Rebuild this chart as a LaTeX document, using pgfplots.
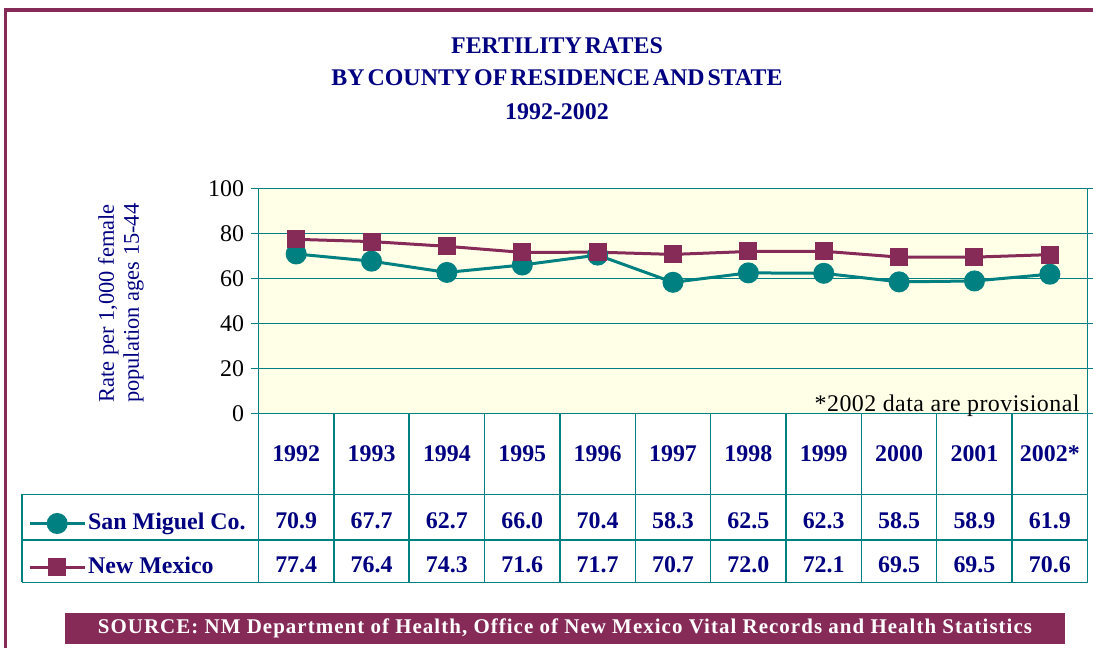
\documentclass[border=0pt]{standalone}
\usepackage{pgfplots}
\usepackage{pgfplotstable}
\pgfplotsset{compat=1.18}
\usepackage{fontspec}
\setmainfont{Liberation Serif}
\newfontfamily\srcfont[LetterSpace=5]{Liberation Serif}
\newfontfamily\notefont[LetterSpace=2]{Liberation Serif}
\newfontfamily\titlefont[WordSpace=0.5]{Liberation Serif}

\definecolor{navy}{HTML}{000080}
\definecolor{tealc}{HTML}{008080}
\definecolor{maroon}{HTML}{862B58}
\definecolor{paper}{HTML}{FFFFE8}

% fertility rates per 1,000 females 15-44
\pgfplotstableread{
x sm nm
0 70.9 77.4
1 67.7 76.4
2 62.7 74.3
3 66.0 71.6
4 70.4 71.7
5 58.3 70.7
6 62.5 72.0
7 62.3 72.1
8 58.5 69.5
9 58.9 69.5
10 61.9 70.6
}\fdata

\begin{document}
\begin{tikzpicture}[x=1bp,y=1bp]
\path[use as bounding box] (0,0) rectangle (1093,648);
% outer frame
\draw[maroon, line width=3.5bp] (5.5,0) -- (5.5,638) -- (1093,638);

% title
\begin{scope}[every node/.style={text=navy, anchor=base, font=\titlefont\fontsize{24}{24}\selectfont\bfseries}]
  \node at (557,594) {FERTILITY RATES};
  \node at (557,562) {BY COUNTY OF RESIDENCE AND STATE};
  \node at (557,528) {1992-2002};
\end{scope}

\begin{axis}[
    at={(258.5bp,234.5bp)}, anchor=south west,
    scale only axis, width=829bp, height=225bp,
    xmin=-0.5, xmax=10.5, ymin=0, ymax=100,
    ytick={0,20,...,100},
    xtick={0,...,10},
    xticklabels={1992,1993,1994,1995,1996,1997,1998,1999,2000,2001,2002*},
    axis background/.style={fill=paper},
    axis line style={tealc, line width=1.5bp},
    ymajorgrids,
    grid style={tealc, line width=0.7bp},
    ytick style={tealc, line width=1.5bp},
    xtick style={draw=none},
    major tick length=8bp,
    tick align=outside,
    /pgf/number format/assume math mode=true,
    yticklabel style={font=\fontsize{24}{24}\selectfont, text=black, xshift=-3bp},
    xticklabel style={font=\fontsize{24}{24}\selectfont\bfseries, text=navy, anchor=base, yshift=-40bp},
    ylabel={Rate per 1,000 female\\population ages 15-44},
    ylabel style={at={(axis description cs:-0.166,0.49)}, anchor=center, align=center,
        text=navy, font=\fontsize{22.5}{25}\selectfont},
    legend style={at={(axis description cs:-0.27805,-0.439)}, anchor=north west,
        draw=none, fill=none, inner sep=0pt, row sep=22bp, /tikz/column sep=2bp,
        font=\fontsize{24}{24}\selectfont\bfseries, text=navy,
        nodes={inner sep=0pt, text height=17bp, text depth=5bp}},
    legend cell align=left,
    legend image code/.code={\draw[mark repeat=2, mark phase=2, #1]
        plot coordinates {(0bp,0bp) (27.5bp,0bp) (55bp,0bp)};},
]
\addplot[tealc, line width=3bp, mark=*, mark size=9bp] table[x=x, y=sm]{\fdata};
\addlegendentry{San Miguel Co.}
\addplot[maroon, line width=3bp, mark=square*, mark size=7.5bp] table[x=x, y=nm]{\fdata};
\addlegendentry{New Mexico}
\end{axis}

\node[anchor=base east, font=\notefont\fontsize{24}{24}\selectfont] at (1083,236.5) {*2002 data are provisional};

% data table grid
\begin{scope}[tealc, line width=1.5bp]
  \foreach \i in {0,...,11} {
    \draw (258.5+75.36*\i, 234.5) -- (258.5+75.36*\i, 65.5);
  }
  \draw (22,153.5) -- (1087.5,153.5);
  \draw (22,108) -- (1087.5,108);
  \draw (22,65.5) -- (1087.5,65.5);
  \draw (22,153.5) -- (22,65.5);
\end{scope}
\foreach \i in {0,...,10} {
  \pgfplotstablegetelem{\i}{sm}\of\fdata
  \node[anchor=base, text=navy, font=\fontsize{24}{24}\selectfont\bfseries]
    at (258.5+75.36*\i+37.68, 119) {\pgfplotsretval};
  \pgfplotstablegetelem{\i}{nm}\of\fdata
  \node[anchor=base, text=navy, font=\fontsize{24}{24}\selectfont\bfseries]
    at (258.5+75.36*\i+37.68, 75) {\pgfplotsretval};
}

% source banner
\node[fill=maroon, text=white, minimum width=1000bp, minimum height=31bp, inner sep=0pt,
      text height=14bp, text depth=2.6bp, font=\srcfont\fontsize{21}{21}\selectfont\bfseries]
  at (565,19.7) {SOURCE: NM Department of Health, Office of New Mexico Vital Records and Health Statistics};
\end{tikzpicture}
\end{document}
